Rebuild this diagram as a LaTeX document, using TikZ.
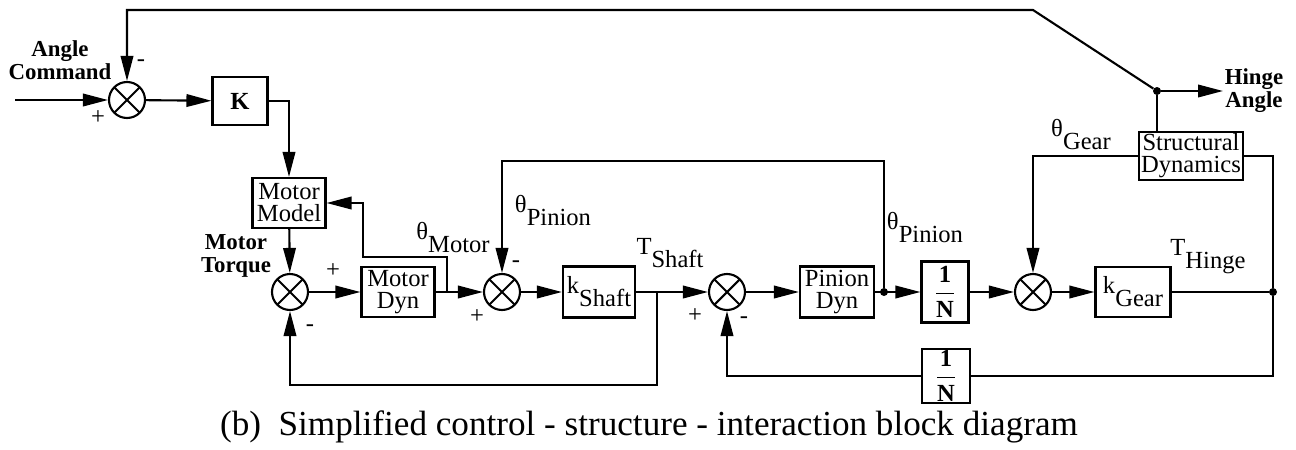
\documentclass[tikz,border=0pt]{standalone}
\usepackage{fontspec}
\setmainfont{Liberation Serif}
\usepackage{amsmath}
\usetikzlibrary{arrows.meta,calc}
\newcommand{\sublbl}[2]{#1\raisebox{-1.15ex}{#2}}

\tikzset{
  blk/.style={draw, line width=1.2pt, minimum width=1.46cm, minimum height=1cm,
    inner sep=1pt, align=center, font=\fontsize{14}{12.5}\selectfont},
  sumnode/.style={draw, circle, line width=1.2pt, minimum size=0.72cm, inner sep=0pt,
    path picture={\draw[line width=1.2pt]
      (path picture bounding box.south west) -- (path picture bounding box.north east)
      (path picture bounding box.north west) -- (path picture bounding box.south east);}},
  sig/.style={line width=1.2pt},
  arr/.style={sig, -{Triangle[length=0.5cm,width=0.25cm]}},
  jdot/.style={circle, fill, inner sep=0pt, minimum size=0.16cm},
  lbl/.style={font=\fontsize{14}{13}\selectfont, align=center, inner sep=0pt},
  blbl/.style={font=\fontsize{13}{13}\selectfont\bfseries, align=center, inner sep=0pt},
  sgn/.style={font=\fontsize{14}{13}\selectfont, inner sep=0pt},
}

\begin{document}
\begin{tikzpicture}[x=0.02cm, y=-0.02cm]
\useasboundingbox (0,0) rectangle (1296,450);

% blocks and summing junctions
\node[sumnode] (sumA) at (127,100) {};
\node[blk, minimum width=1.1cm, minimum height=0.96cm] (kblk) at (240,101) {\textbf{K}};
\node[blk] (mmodel) at (289,203) {Motor\\Model};
\node[sumnode] (sumB) at (290,292) {};
\node[blk] (mdyn) at (398,292) {Motor\\Dyn};
\node[sumnode] (sumC) at (502,292) {};
\node[blk, minimum width=1.44cm, minimum height=1.02cm] (kshaft) at (599,292) {\sublbl{k}{Shaft}};
\node[sumnode] (sumD) at (727,292) {};
\node[blk, minimum width=1.48cm, minimum height=1.02cm] (pdyn) at (837,292) {Pinion\\Dyn};
\node[blk, minimum width=0.94cm, minimum height=1.22cm] (ninvA) at (945,292) {$\dfrac{\textbf{1}}{\textbf{N}}$};
\node[sumnode] (sumE) at (1033,292) {};
\node[blk, minimum width=1.5cm] (kgear) at (1133,292) {\sublbl{k}{Gear}};
\node[blk, minimum width=2.08cm, minimum height=0.88cm] (sdyn) at (1191,156) {Structural\\Dynamics};
\node[blk, minimum width=0.96cm, minimum height=0.96cm] (ninvB) at (946,376) {$\dfrac{\textbf{1}}{\textbf{N}}$};

% junctions and free ends
\coordinate (cin) at (15,100);
\coordinate (ctop) at (1033,10);
\node[jdot] (jAng) at (1157,91) {};
\coordinate (cout) at (1223,91);
\coordinate (jMot) at (447,292);
\coordinate (cMot) at (363,257);
\coordinate (jShaft) at (657,292);
\coordinate (cBot) at (290,385);
\node[jdot] (jPin) at (884,292) {};
\coordinate (cPin) at (502,161);
\node[jdot] (jHinge) at (1273,292) {};

% signal lines
\draw[arr] (cin) -- (sumA);
\draw[arr] (sumA) -- (kblk);
\draw[arr] (kblk.east) -| (mmodel.north);
\draw[arr] (mmodel) -- (sumB);
\draw[arr] (sumB) -- (mdyn);
\draw[arr] (mdyn) -- (sumC);
\draw[arr] (jMot) |- (cMot) |- (mmodel.east);
\draw[arr] (sumC) -- (kshaft);
\draw[arr] (kshaft) -- (sumD);
\draw[arr] (jShaft) |- (cBot) -- (sumB);
\draw[arr] (sumD) -- (pdyn);
\draw[arr] (pdyn) -- (ninvA);
\draw[arr] (jPin) |- (cPin) -- (sumC);
\draw[arr] (ninvA) -- (sumE);
\draw[arr] (sumE) -- (kgear);
\draw[sig] (kgear) -- (jHinge);
\draw[sig] (jHinge) |- (sdyn.east);
\draw[arr] (sdyn.west) -| (sumE);
\draw[sig] (jHinge) |- (ninvB);
\draw[arr] (ninvB) -| (sumD);
\draw[sig] (sdyn.north -| jAng) -- (jAng);
\draw[arr] (jAng) -- (cout);
\draw[arr] (jAng) -- (ctop) -| (sumA);

% labels
\node[blbl] (angcmd) at (60,60) {Angle\\Command};
\node[sgn] at (98,118) {+};
\node[sgn] at (141,63) {-};
\node[blbl] (mtorq) at (236,256) {Motor\\Torque};
\node[sgn] at (333,271) {+};
\node[sgn] at (310,328) {-};
\node[lbl] (thMot) at (453,238) {\sublbl{θ}{Motor}};
\node[sgn] at (477,317) {+};
\node[sgn] at (516,264) {-};
\node[lbl] (thPinA) at (553,211) {\sublbl{θ}{Pinion}};
\node[lbl] (tShaft) at (670,253) {\sublbl{T}{Shaft}};
\node[sgn] at (695,316) {+};
\node[sgn] at (744,320) {-};
\node[lbl] (thPinB) at (925,228) {\sublbl{θ}{Pinion}};
\node[lbl] (tHinge) at (1208,257) {\sublbl{T}{Hinge}};
\node[lbl] (thGear) at (1081,135) {\sublbl{θ}{Gear}};
\node[blbl] (hang) at (1254,91) {Hinge\\Angle};
\node[font=\fontsize{20}{22}\selectfont, inner sep=0pt] (caption) at (649,427)
  {(b)\ \ Simplified control - structure - interaction block diagram};
\end{tikzpicture}
\end{document}
